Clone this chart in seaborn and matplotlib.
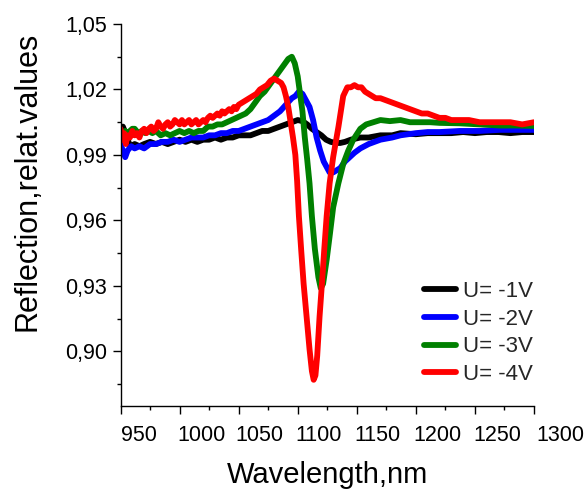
import matplotlib
matplotlib.use("Agg")
import matplotlib.pyplot as plt
import matplotlib.transforms as mtransforms
from matplotlib.ticker import FixedLocator
import numpy as np
import pandas as pd
import seaborn as sns

# ---------------- data ----------------
wl_1 = [950, 952, 955, 958, 962, 966, 970, 975, 980, 985, 990, 995, 1000, 1005, 1010,
        1015, 1020, 1025, 1030, 1035, 1040, 1045, 1050, 1055, 1060, 1065, 1070, 1075,
        1080, 1085, 1090, 1095, 1100, 1104, 1108, 1112, 1116, 1120, 1124, 1128, 1132,
        1136, 1140, 1145, 1153, 1160, 1170, 1180, 1187, 1200, 1210, 1220, 1230, 1240,
        1250, 1260, 1270, 1280, 1290, 1300]
r_1 = [1.002, 1.003, 0.999, 0.994, 0.995, 0.994, 0.995, 0.996, 0.995, 0.996, 0.995,
       0.996, 0.997, 0.996, 0.997, 0.996, 0.997, 0.997, 0.998, 0.997, 0.998, 0.998,
       0.999, 0.999, 0.999, 1.000, 1.001, 1.001, 1.002, 1.003, 1.004, 1.005, 1.006,
       1.0055, 1.004, 1.002, 1.0005, 0.999, 0.997, 0.996, 0.9955, 0.9955, 0.996,
       0.997, 0.998, 0.998, 0.999, 0.999, 1.0, 0.9995, 1.0, 1.0, 1.0, 1.0005,
       1.0, 1.0005, 1.0005, 1.0, 1.0005, 1.0005]

wl_2 = [950, 952, 954, 956, 959, 962, 966, 970, 975, 980, 985, 990, 995, 1000, 1005,
        1010, 1015, 1020, 1025, 1030, 1035, 1040, 1045, 1050, 1055, 1060, 1065, 1070,
        1075, 1080, 1085, 1090, 1095, 1098, 1101, 1104, 1107, 1110, 1113, 1116, 1119,
        1122, 1125, 1127, 1130, 1133, 1136, 1140, 1144, 1148, 1153, 1160, 1170, 1180,
        1187, 1200, 1210, 1220, 1237, 1254, 1271, 1285, 1300]
r_2 = [0.995, 0.992, 0.989, 0.992, 0.994, 0.993, 0.994, 0.993, 0.995, 0.995, 0.996,
       0.996, 0.997, 0.996, 0.997, 0.998, 0.998, 0.998, 0.999, 0.999, 1.000, 1.000,
       1.001, 1.001, 1.002, 1.003, 1.004, 1.005, 1.006, 1.008, 1.010, 1.013, 1.016,
       1.017, 1.019, 1.018, 1.015, 1.012, 1.006, 0.998, 0.992, 0.987, 0.984, 0.982,
       0.982, 0.983, 0.984, 0.987, 0.989, 0.991, 0.993, 0.995, 0.997, 0.998, 0.999,
       1.000, 1.0005, 1.0005, 1.001, 1.001, 1.0015, 1.0015, 1.0015]

wl_3 = [950, 952, 954, 956, 958, 960, 962, 965, 968, 971, 974, 977, 980, 984, 988,
        992, 996, 1000, 1004, 1008, 1012, 1016, 1020, 1024, 1028, 1032, 1036, 1040,
        1044, 1048, 1052, 1056, 1060, 1064, 1068, 1072, 1076, 1080, 1084, 1088, 1092,
        1095, 1097.5, 1100, 1102, 1104, 1106, 1108, 1110, 1112, 1114.5, 1117.5, 1119.5,
        1121.5, 1124.5, 1127.3, 1130, 1134.4, 1138.6, 1142.8, 1147, 1153, 1158, 1164,
        1170, 1178, 1187, 1195, 1203, 1212, 1220, 1237, 1254, 1271, 1285, 1300]
r_3 = [1.000, 0.998, 1.001, 0.999, 1.001, 1.002, 1.002, 1.000, 1.001, 1.000, 1.001,
       1.000, 1.001, 0.999, 1.000, 0.999, 1.000, 1.001, 1.000, 1.001, 1.000, 1.001,
       1.001, 1.003, 1.003, 1.004, 1.004, 1.005, 1.006, 1.007, 1.008, 1.009, 1.011,
       1.014, 1.017, 1.019, 1.022, 1.025, 1.028, 1.031, 1.034, 1.035, 1.032, 1.026,
       1.018, 1.010, 0.998, 0.988, 0.977, 0.962, 0.947, 0.934, 0.929, 0.931, 0.942,
       0.954, 0.966, 0.977, 0.986, 0.992, 0.997, 1.002, 1.004, 1.005, 1.006, 1.0055,
       1.006, 1.005, 1.005, 1.005, 1.0047, 1.0045, 1.004, 1.0035, 1.0035, 1.0033]

wl_4 = [950, 951.5, 953, 954.5, 956, 958, 960, 962, 964, 966, 968, 970, 972, 974, 976,
        978, 980, 982, 984, 986, 988, 990, 992, 994, 996, 998, 1000, 1002, 1004, 1006,
        1008, 1010, 1012, 1014, 1016, 1018, 1020, 1022, 1024, 1026, 1028, 1030, 1032,
        1034, 1036, 1038, 1040, 1042, 1044, 1046, 1048, 1050, 1053, 1056, 1059, 1062,
        1065, 1068, 1071, 1074, 1077, 1080, 1083, 1086, 1088, 1090, 1092, 1094, 1096,
        1098, 1099.5, 1101, 1103, 1105, 1107.5, 1110, 1112, 1113.5, 1115, 1116.5,
        1118.5, 1120.5, 1122.5, 1124.5, 1127, 1130, 1134.5, 1138.5, 1142, 1145, 1148,
        1151, 1154, 1157, 1160, 1163, 1166, 1170, 1175, 1180, 1185, 1190, 1195, 1200,
        1205, 1210, 1215, 1220, 1225, 1230, 1237, 1245, 1254, 1262, 1271, 1280, 1290,
        1300]
r_4 = [1.002, 0.997, 1.000, 0.995, 0.999, 0.998, 1.001, 0.999, 1.000, 0.998, 1.001,
       1.002, 1.000, 1.002, 1.003, 1.001, 1.002, 1.005, 1.003, 1.002, 1.004, 1.005,
       1.003, 1.004, 1.006, 1.005, 1.004, 1.006, 1.004, 1.005, 1.006, 1.004, 1.005,
       1.006, 1.004, 1.005, 1.006, 1.005, 1.007, 1.008, 1.007, 1.008, 1.009, 1.008,
       1.010, 1.009, 1.010, 1.011, 1.010, 1.012, 1.011, 1.013, 1.014, 1.015, 1.016,
       1.017, 1.018, 1.020, 1.021, 1.022, 1.024, 1.025, 1.024, 1.023, 1.021, 1.017,
       1.012, 1.005, 0.998, 0.990, 0.978, 0.962, 0.946, 0.931, 0.916, 0.901, 0.891,
       0.887, 0.889, 0.898, 0.916, 0.931, 0.947, 0.962, 0.977, 0.989, 1.003, 1.017,
       1.021, 1.021, 1.022, 1.021, 1.021, 1.019, 1.018, 1.017, 1.016, 1.016, 1.015,
       1.014, 1.013, 1.012, 1.011, 1.010, 1.009, 1.009, 1.008, 1.007, 1.007, 1.006,
       1.006, 1.006, 1.005, 1.005, 1.005, 1.005, 1.004, 1.005]

series_labels = ["U= -1V", "U= -2V", "U= -3V", "U= -4V"]
x_ticks = [950, 1000, 1050, 1100, 1150, 1200, 1250, 1300]
x_ticklabels = ["950", "1000", "1050", "1100", "1150", "1200", "1250", "1300"]
y_ticks = [0.90, 0.93, 0.96, 0.99, 1.02, 1.05]
y_ticklabels = ["0,90", "0,93", "0,96", "0,99", "1,02", "1,05"]

# ---------------- style ----------------
colors = ["#000000", "#0000ff", "#008000", "#ff0000"]
x_label_shift_px = [18, 22, 21, 21, 21, 22, 22, 26]

sns.set_theme(style="ticks")
plt.rcParams["font.family"] = ["Liberation Sans", "DejaVu Sans"]

frames = []
for lab, w, r in zip(series_labels, [wl_1, wl_2, wl_3, wl_4], [r_1, r_2, r_3, r_4]):
    frames.append(pd.DataFrame({"Wavelength": w, "Reflection": r, "U": lab}))
df = pd.concat(frames, ignore_index=True)

W, H = 587, 498
fig = plt.figure(figsize=(W / 100, H / 100), dpi=100)
ax = fig.add_axes([120.5 / W, 1 - 406 / H, (534 - 120.5) / W, (406 - 24) / H])

sns.lineplot(data=df, x="Wavelength", y="Reflection", hue="U", hue_order=series_labels,
             palette=colors, estimator=None, linewidth=4.2, ax=ax)

ax.set_xlim(950, 1300)
ax.set_ylim(0.875, 1.05)
sns.despine(ax=ax)
for s in ("left", "bottom"):
    ax.spines[s].set_linewidth(1.0)
    ax.spines[s].set_color("black")

ax.xaxis.set_major_locator(FixedLocator(x_ticks))
ax.xaxis.set_minor_locator(FixedLocator([975, 1025, 1075, 1125, 1175, 1225, 1275]))
ax.yaxis.set_major_locator(FixedLocator(y_ticks))
ax.yaxis.set_minor_locator(FixedLocator([0.885, 0.915, 0.945, 0.975, 1.005, 1.035]))
ax.set_xticklabels(x_ticklabels)
ax.set_yticklabels(y_ticklabels)

ax.tick_params(which="major", direction="out", length=5.8, width=1.0, color="black",
               labelsize=15.5, labelcolor="black")
ax.tick_params(axis="x", which="major", pad=8)
ax.tick_params(axis="y", which="major", pad=4)
ax.tick_params(which="minor", direction="out", length=3, width=1.0, color="black")

for tick, dx in zip(ax.xaxis.get_major_ticks(), x_label_shift_px):
    tick.label1.set_transform(tick.label1.get_transform() +
                              mtransforms.ScaledTranslation(dx / 100, 0, fig.dpi_scale_trans))

ax.set_xlabel("Wavelength,nm", fontsize=21, color="black")
ax.set_ylabel("Reflection,relat.values", fontsize=22, color="black")
ax.xaxis.set_label_coords(0.5, -0.145)
ax.yaxis.set_label_coords((43 - 120.5) / 413.5, (406 - 181) / 382)

handles, labs = ax.get_legend_handles_labels()
leg = ax.legend(handles, labs, loc="upper left", bbox_to_anchor=(424 / W, 1 - 281 / H),
                bbox_transform=fig.transFigure, frameon=False, fontsize=16,
                handlelength=1.45, handletextpad=0.3, labelspacing=0.3,
                borderpad=0, borderaxespad=0)
for h in leg.get_lines():
    h.set_linewidth(4.2)

fig.savefig("out.png", dpi=100)
